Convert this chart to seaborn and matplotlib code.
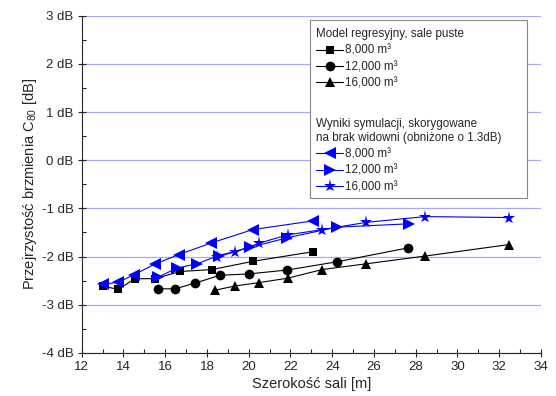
import matplotlib
matplotlib.use("Agg")
import matplotlib.pyplot as plt
import matplotlib.patches as patches
from matplotlib.ticker import MultipleLocator
import seaborn as sns

# Data
# regression model, empty halls
reg_8k_x = [13.04, 13.76, 14.54, 15.49, 16.72, 18.24, 20.19, 23.07]
reg_8k_y = [-2.62, -2.68, -2.46, -2.46, -2.31, -2.27, -2.10, -1.90]
reg_12k_x = [15.65, 16.48, 17.44, 18.61, 20.02, 21.84, 24.21, 27.63]
reg_12k_y = [-2.67, -2.67, -2.55, -2.39, -2.36, -2.28, -2.11, -1.82]
reg_16k_x = [18.37, 19.36, 20.51, 21.86, 23.52, 25.63, 28.45, 32.48]
reg_16k_y = [-2.70, -2.61, -2.54, -2.45, -2.27, -2.15, -1.99, -1.75]

# simulation results, corrected
sim_8k_x = [13.04, 13.76, 14.50, 15.49, 16.64, 18.19, 20.19, 23.07]
sim_8k_y = [-2.58, -2.53, -2.38, -2.16, -1.96, -1.72, -1.44, -1.26]
sim_12k_x = [15.65, 16.55, 17.52, 18.56, 20.06, 21.84, 24.21, 27.68]
sim_12k_y = [-2.43, -2.24, -2.15, -1.98, -1.81, -1.61, -1.39, -1.32]
sim_16k_x = [18.46, 19.36, 20.51, 21.86, 23.52, 25.63, 28.45, 32.48]
sim_16k_y = [-2.01, -1.90, -1.72, -1.55, -1.44, -1.29, -1.17, -1.19]

labels = ["8,000 m³", "12,000 m³", "16,000 m³"]
y_ticks = [-4, -3, -2, -1, 0, 1, 2, 3]
y_ticklabels = ["-4 dB", "-3 dB", "-2 dB", "-1 dB", "0 dB", "1 dB", "2 dB", "3 dB"]
x_ticks = [12, 14, 16, 18, 20, 22, 24, 26, 28, 30, 32, 34]

sns.set_style("ticks")
plt.rcParams["font.family"] = ["Liberation Sans", "DejaVu Sans"]

fig = plt.figure(figsize=(5.56, 3.96), dpi=100)
ax = fig.add_axes([0.147, 0.109, 0.826, 0.851])

# black series
black = [(reg_8k_x, reg_8k_y, "s", 6), (reg_12k_x, reg_12k_y, "o", 7), (reg_16k_x, reg_16k_y, "^", 7.5)]
for (xs, ys, m, ms), lab in zip(black, labels):
    sns.lineplot(x=xs, y=ys, ax=ax, color="black", marker=m, markersize=ms,
                 markeredgewidth=0, linewidth=0.8, sort=False, estimator=None, label=lab)

# blue series
blue = [(sim_8k_x, sim_8k_y, "<", 8), (sim_12k_x, sim_12k_y, ">", 8), (sim_16k_x, sim_16k_y, "*", 9.5)]
for (xs, ys, m, ms), lab in zip(blue, labels):
    sns.lineplot(x=xs, y=ys, ax=ax, color="#0000ff", marker=m, markersize=ms,
                 markeredgewidth=0, linewidth=0.8, sort=False, estimator=None, label=lab)

ax.set_xlim(12, 34)
ax.set_ylim(-4, 3)
ax.set_xticks(x_ticks)
ax.set_xticklabels([str(t) for t in x_ticks])
ax.set_yticks(y_ticks)
ax.set_yticklabels(y_ticklabels)
ax.xaxis.set_minor_locator(MultipleLocator(1))
ax.yaxis.set_minor_locator(MultipleLocator(0.5))
ax.tick_params(which="major", direction="inout", length=6, width=0.8, labelsize=9.5, pad=3)
ax.tick_params(which="minor", direction="in", length=3, width=0.8)

ax.grid(axis="y", color="#a8a8ff", linewidth=0.9)
ax.set_axisbelow(True)
sns.despine(ax=ax)
ax.spines["left"].set_linewidth(0.8)
ax.spines["bottom"].set_linewidth(0.8)

ax.set_xlabel("Szerokość sali [m]", fontsize=10.5, labelpad=2.5)
ax.set_ylabel("Przejrzystość brzmienia C$_{\\mathregular{80}}$ [dB]", fontsize=10.5, labelpad=2)

# legend box with two groups
handles, _ = ax.get_legend_handles_labels()
if ax.get_legend():
    ax.get_legend().remove()

box = patches.Rectangle((0.497, 0.46), 0.472, 0.528, transform=ax.transAxes,
                        facecolor="white", edgecolor="#888888", linewidth=0.8, zorder=4)
ax.add_patch(box)

leg_kw = dict(loc="upper left", frameon=False, fontsize=8.4, title_fontsize=8.4,
              alignment="left", handlelength=2.3, handletextpad=0.2,
              labelspacing=0.38, borderpad=0.3)
leg1 = ax.legend(handles[:3], labels, title="Model regresyjny, sale puste",
                 bbox_to_anchor=(0.49, 0.991), **leg_kw)
ax.add_artist(leg1)
leg2 = ax.legend(handles[3:], labels,
                 title="Wyniki symulacji, skorygowane\nna brak widowni (obniżone o 1.3dB)",
                 bbox_to_anchor=(0.49, 0.724), **leg_kw)
leg1.set_zorder(5)
leg2.set_zorder(5)

plt.savefig("out.png", dpi=100)
